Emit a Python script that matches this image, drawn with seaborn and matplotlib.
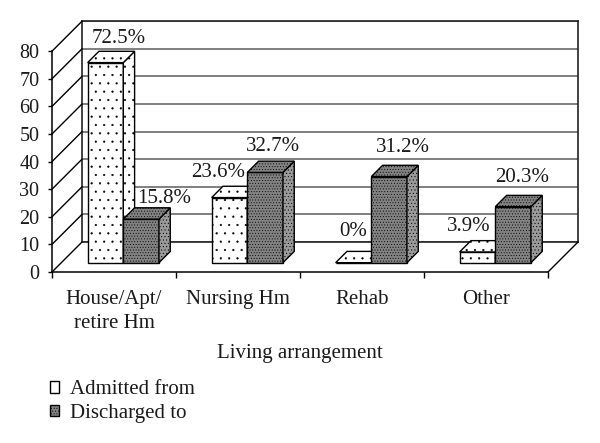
import matplotlib
matplotlib.use("Agg")
import matplotlib.pyplot as plt
import pandas as pd
import seaborn as sns
from matplotlib.patches import ConnectionPatch, Patch, Polygon

categories = ["House/Apt/\nretire Hm", "Nursing Hm", "Rehab", "Other"]
series_names = ["Admitted from", "Discharged to"]
admitted = [72.5, 23.6, 0, 3.9]
discharged = [15.8, 32.7, 31.2, 20.3]
y_ticks = [0, 10, 20, 30, 40, 50, 60, 70, 80]
x_label = "Living arrangement"

W, H = 600, 443
UNIT_H = 2.76  # pixels per value unit
CAT_W = 124.0  # pixels per category
Y_SPAN = 80 * UNIT_H

sns.set_theme(style="white")
plt.rcParams["font.family"] = ["Liberation Serif", "DejaVu Serif"]
plt.rcParams["text.color"] = "#1a1a1a"
plt.rcParams["hatch.linewidth"] = 0.35

fig = plt.figure(figsize=(W / 100, H / 100), dpi=100)


def plane(left, baseline):
    # axes for one depth of the oblique box, given in pixels from top-left
    a = fig.add_axes([left / W, 1 - baseline / H, 4 * CAT_W / W, Y_SPAN / H])
    a.set_xlim(-0.5, 3.5)
    a.set_ylim(0, 80)
    a.patch.set_alpha(0)
    return a


# back wall
ax_back = plane(82, 242)
ax_back.set_xticks([])
ax_back.set_yticks(y_ticks)
ax_back.tick_params(left=False, labelleft=False)
ax_back.yaxis.grid(True, color="#6a6a6a", lw=1.2)
ax_back.xaxis.grid(False)
for s in ax_back.spines.values():
    s.set_color("#222222")
    s.set_linewidth(1.2)

# front plane carries the real axes
ax_front = plane(52, 272)
sns.despine(ax=ax_front)
for s in ["left", "bottom"]:
    ax_front.spines[s].set_color("black")
    ax_front.spines[s].set_linewidth(1.1)
ax_front.set_xticks([-0.5, 0.5, 1.5, 2.5, 3.5])
ax_front.set_xticklabels([])
ax_front.set_xticks([0, 1, 2, 3], labels=categories, minor=True)
ax_front.set_yticks(y_ticks)
ax_front.tick_params(axis="x", which="major", bottom=True, length=4, width=1, color="black")
ax_front.tick_params(axis="x", which="minor", bottom=False, labelsize=15, pad=9, labelcolor="#1a1a1a")
ax_front.tick_params(axis="y", left=True, length=3, width=1, color="black", labelsize=14.5, pad=6, labelcolor="#1a1a1a")
for lab in ax_front.get_xticklabels(minor=True):
    lab.set_linespacing(1.35)
ax_front.set_xlabel(x_label, fontsize=15, labelpad=8, color="#1a1a1a")

# depth lines joining the front plane to the back wall
for v in y_ticks:
    fig.add_artist(ConnectionPatch((-0.5, v), (-0.5, v), coordsA=ax_front.transData,
                                   coordsB=ax_back.transData, color="black", lw=1.0))
fig.add_artist(ConnectionPatch((3.5, 0), (3.5, 0), coordsA=ax_front.transData,
                               coordsB=ax_back.transData, color="black", lw=1.0))

# bars sit part way into the floor
df = pd.DataFrame({
    "category": categories * 2,
    "series": [series_names[0]] * 4 + [series_names[1]] * 4,
    "value": admitted + discharged,
})
ax = plane(61.3, 262.7)
ax.set_zorder(5)
sns.barplot(data=df, x="category", y="value", hue="series", hue_order=series_names,
            order=categories, width=0.575, gap=0, dodge=True, palette=["white", "white"],
            legend=False, ax=ax)
ax.set_xlim(-0.5, 3.5)
ax.set_ylim(0, 80)
ax.axis("off")

styles = [
    {"front": "white", "side": "white", "top": "white", "hatch": "..", "hatch_side": ".."},
    {"front": "#828282", "side": "#9a9a9a", "top": "#828282", "hatch": "......", "hatch_side": "....."},
]
dx = 11.3 / CAT_W
dy = 11.3 / UNIT_H

for i, container in enumerate(ax.containers):
    st = styles[i]
    for bar in container:
        x0, w, h = bar.get_x(), bar.get_width(), bar.get_height()
        x1 = x0 + w
        z = 3 + i
        bar.set(facecolor=st["front"], edgecolor="black", linewidth=1.0, hatch=st["hatch"], zorder=z, clip_on=False)
        side = Polygon([(x1, 0), (x1 + dx, dy), (x1 + dx, h + dy), (x1, h)], closed=True,
                       facecolor=st["side"], edgecolor="black", lw=1.0, hatch=st["hatch_side"], zorder=z, clip_on=False)
        top = Polygon([(x0, h), (x1, h), (x1 + dx, h + dy), (x0 + dx, h + dy)], closed=True,
                      facecolor=st["top"], edgecolor="black", lw=1.0, hatch=st["hatch"], zorder=z, clip_on=False)
        ax.add_patch(side)
        ax.add_patch(top)

# value labels, nudged (px) from the front top of each bar as in the original
label_nudge = [
    [(13, 24.5), (-11, 25.5), (0, 31.5), (-9, 25)],
    [(23, 21), (8, 26), (14, 29.5), (9, 29.5)],
]
for i, container in enumerate(ax.containers):
    for bar, nudge in zip(container, label_nudge[i]):
        val = bar.get_height()
        txt = f"{val:g}%"
        ax.annotate(txt, (bar.get_x() + bar.get_width() / 2, val),
                    xytext=(nudge[0] * 0.72, nudge[1] * 0.72), textcoords="offset points",
                    ha="center", va="center", fontsize=15, color="#1a1a1a", zorder=10,
                    annotation_clip=False)

handles = [
    Patch(facecolor=styles[0]["front"], edgecolor="black", hatch=":", label=series_names[0]),
    Patch(facecolor=styles[1]["front"], edgecolor="black", hatch="......", label=series_names[1]),
]
fig.legend(handles=handles, loc="lower left", bbox_to_anchor=(50 / W, 1 - 423 / H), frameon=False,
           fontsize=15, handlelength=0.45, handleheight=0.45, handletextpad=0.5, labelspacing=0.22,
           borderpad=0, borderaxespad=0)

fig.savefig("out.png", dpi=100)
